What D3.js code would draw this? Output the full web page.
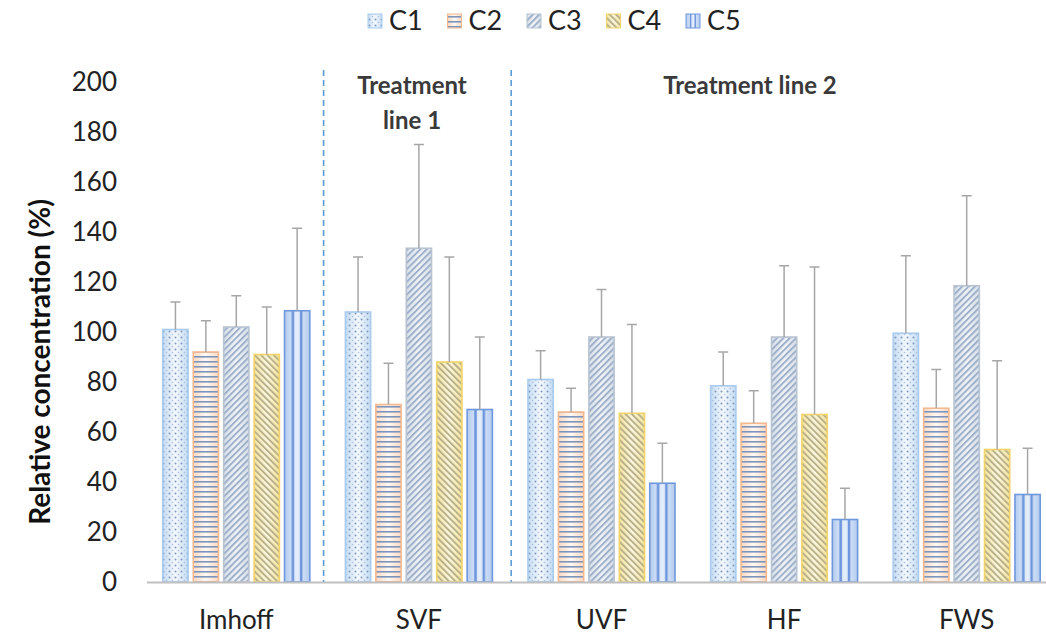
<!DOCTYPE html>
<html>
<head>
<meta charset="utf-8">
<script src="https://cdn.jsdelivr.net/npm/d3@7"></script>
<style>
  body { margin: 0; background: #fff; }
  text { font-family: Lato, "Open Sans", sans-serif; }
</style>
</head>
<body>
<svg id="chart" width="1046" height="639"></svg>
<script>
// data
const sites = ["Imhoff", "SVF", "UVF", "HF", "FWS"];
const series = ["C1", "C2", "C3", "C4", "C5"];
const c1 = [101, 108, 81, 78.5, 99.5];
const c2 = [92, 71, 68, 63.5, 69.5];
const c3 = [102, 133.5, 98, 98, 118.5];
const c4 = [91, 88, 67.5, 67, 53];
const c5 = [108.5, 69, 39.5, 25, 35];
const c1Err = [11, 22, 11.5, 13.5, 31];
const c2Err = [12.5, 16.5, 9.5, 13, 15.5];
const c3Err = [12.5, 41.5, 19, 28.5, 36];
const c4Err = [19, 42, 35.5, 59, 35.5];
const c5Err = [33, 29, 16, 12.5, 18.5];
const yTicks = [0, 20, 40, 60, 80, 100, 120, 140, 160, 180, 200];

const values = [c1, c2, c3, c4, c5];
const errors = [c1Err, c2Err, c3Err, c4Err, c5Err];

const svg = d3.select("#chart");
const margin = {left: 145, right: -12, top: 82, bottom: 57};
const W = 1046, H = 639;

const x = d3.scaleBand().domain(sites)
    .range([margin.left, W - margin.right]).paddingInner(0).paddingOuter(0);
const y = d3.scaleLinear().domain([0, 200]).range([H - margin.bottom, margin.top]);
const xs = d3.scaleBand().domain(series).range([0, x.bandwidth() * 0.805])
    .paddingInner(0.17);
const groupOff = (x.bandwidth() - x.bandwidth() * 0.805) / 2;

// styling of each series
const borders = ["#a9cbed", "#f4b990", "#b9c4d2", "#f2d56a", "#6f98dc"];
const defs = svg.append("defs");

// C1: blue-white gradient with dots
const g1 = defs.append("linearGradient").attr("id", "grad1");
g1.append("stop").attr("offset", "0%").attr("stop-color", "#c5dcf3");
g1.append("stop").attr("offset", "50%").attr("stop-color", "#f4f8fd");
g1.append("stop").attr("offset", "100%").attr("stop-color", "#c5dcf3");
const p1 = defs.append("pattern").attr("id", "pat1").attr("patternUnits", "userSpaceOnUse")
    .attr("width", 6).attr("height", 6);
p1.append("circle").attr("cx", 1.5).attr("cy", 1.5).attr("r", 1).attr("fill", "#7f98bb");
p1.append("circle").attr("cx", 4.5).attr("cy", 4.5).attr("r", 0.8).attr("fill", "#a9bfdb");

// C2: horizontal lines
const g2 = defs.append("linearGradient").attr("id", "grad2");
g2.append("stop").attr("offset", "0%").attr("stop-color", "#fbd9c2");
g2.append("stop").attr("offset", "50%").attr("stop-color", "#fff8f3");
g2.append("stop").attr("offset", "100%").attr("stop-color", "#fbd9c2");
const p2 = defs.append("pattern").attr("id", "pat2").attr("patternUnits", "userSpaceOnUse")
    .attr("width", 8).attr("height", 5);
p2.append("rect").attr("x", 0).attr("y", 1).attr("width", 8).attr("height", 1.6).attr("fill", "#7d95bd");

// C3: diagonal stripes up-right
const g3 = defs.append("linearGradient").attr("id", "grad3");
g3.append("stop").attr("offset", "0%").attr("stop-color", "#d8e0ea");
g3.append("stop").attr("offset", "50%").attr("stop-color", "#f2f6fb");
g3.append("stop").attr("offset", "100%").attr("stop-color", "#d8e0ea");
const p3 = defs.append("pattern").attr("id", "pat3").attr("patternUnits", "userSpaceOnUse")
    .attr("width", 4.5).attr("height", 4.5).attr("patternTransform", "rotate(45)");
p3.append("rect").attr("x", 0).attr("y", 0).attr("width", 2).attr("height", 4.5).attr("fill", "#9fb1c9");

// C4: diagonal stripes down-right, yellow
const g4 = defs.append("linearGradient").attr("id", "grad4");
g4.append("stop").attr("offset", "0%").attr("stop-color", "#f7e59c");
g4.append("stop").attr("offset", "50%").attr("stop-color", "#fdf8e4");
g4.append("stop").attr("offset", "100%").attr("stop-color", "#f7e59c");
const p4 = defs.append("pattern").attr("id", "pat4").attr("patternUnits", "userSpaceOnUse")
    .attr("width", 4.5).attr("height", 4.5).attr("patternTransform", "rotate(-45)");
p4.append("rect").attr("x", 0).attr("y", 0).attr("width", 2).attr("height", 4.5).attr("fill", "#b8b18a");

// C5: vertical stripes
const g5 = defs.append("linearGradient").attr("id", "grad5");
g5.append("stop").attr("offset", "0%").attr("stop-color", "#b3cbef");
g5.append("stop").attr("offset", "50%").attr("stop-color", "#e5eefb");
g5.append("stop").attr("offset", "100%").attr("stop-color", "#b3cbef");
const p5 = defs.append("pattern").attr("id", "pat5").attr("patternUnits", "objectBoundingBox")
    .attr("patternContentUnits", "objectBoundingBox").attr("width", 1).attr("height", 1);
[0.33, 0.66].forEach(function(f) {
    p5.append("rect").attr("x", f - 0.05).attr("y", 0).attr("width", 0.1).attr("height", 1)
        .attr("fill", "#6d96dc");
});

// y axis tick labels
svg.append("g").selectAll("text").data(yTicks).join("text")
    .attr("x", 117).attr("y", d => y(d)).attr("dy", "0.35em")
    .attr("text-anchor", "end").attr("font-size", 26).attr("fill", "#222")
    .text(d => d);

svg.append("text")
    .attr("transform", "translate(40,362) rotate(-90)")
    .attr("text-anchor", "middle").attr("dy", "0.35em")
    .attr("font-size", 28).attr("font-weight", "bold").attr("fill", "#111")
    .text("Relative concentration (%)");

// separators between treatment lines
const sepX = [x(sites[1]) - 4, x(sites[2]) + 1];
svg.append("g").selectAll("line").data(sepX).join("line")
    .attr("x1", d => d).attr("x2", d => d)
    .attr("y1", 70).attr("y2", y(0))
    .attr("stroke", "#5b9bd5").attr("stroke-width", 1.6).attr("stroke-dasharray", "6,4");

// bars
const groups = svg.append("g").selectAll("g").data(series).join("g");
groups.each(function(s, si) {
    const g = d3.select(this);
    const rows = sites.map((site, i) => ({site: site, v: values[si][i], e: errors[si][i]}));
    const bx = d => x(d.site) + groupOff + xs(s);
    const bw = xs.bandwidth();
    g.selectAll("rect.base").data(rows).join("rect").attr("class", "base")
        .attr("x", bx).attr("y", d => y(d.v)).attr("width", bw).attr("height", d => y(0) - y(d.v))
        .attr("fill", "url(#grad" + (si + 1) + ")");
    g.selectAll("rect.pat").data(rows).join("rect").attr("class", "pat")
        .attr("x", bx).attr("y", d => y(d.v)).attr("width", bw).attr("height", d => y(0) - y(d.v))
        .attr("fill", "url(#pat" + (si + 1) + ")")
        .attr("stroke", borders[si]).attr("stroke-width", 1.6);
    // upper error bars
    g.selectAll("line.err").data(rows).join("line").attr("class", "err")
        .attr("x1", d => bx(d) + bw / 2).attr("x2", d => bx(d) + bw / 2)
        .attr("y1", d => y(d.v)).attr("y2", d => y(d.v + d.e))
        .attr("stroke", "#a6a6a6").attr("stroke-width", 1.5);
    g.selectAll("line.cap").data(rows).join("line").attr("class", "cap")
        .attr("x1", d => bx(d) + bw / 2 - 5).attr("x2", d => bx(d) + bw / 2 + 5)
        .attr("y1", d => y(d.v + d.e)).attr("y2", d => y(d.v + d.e))
        .attr("stroke", "#a6a6a6").attr("stroke-width", 1.5);
});

// x axis line and labels
svg.append("line").attr("x1", 147).attr("x2", W).attr("y1", y(0) + 0.5).attr("y2", y(0) + 0.5)
    .attr("stroke", "#bfbfbf").attr("stroke-width", 2);
svg.append("g").selectAll("text").data(sites).join("text")
    .attr("x", d => x(d) + x.bandwidth() / 2).attr("y", 620).attr("dy", "0.35em")
    .attr("text-anchor", "middle").attr("font-size", 26).attr("fill", "#222")
    .text(d => d);

// treatment line notes
const note = svg.append("g").attr("font-size", 24).attr("font-weight", "bold")
    .attr("fill", "#3a3a3a").attr("text-anchor", "middle");
note.append("text").attr("x", 412).attr("y", 86).attr("dy", "0.35em").text("Treatment");
note.append("text").attr("x", 412).attr("y", 121).attr("dy", "0.35em").text("line 1");
note.append("text").attr("x", 750).attr("y", 86).attr("dy", "0.35em").text("Treatment line 2");

// legend
const leg = svg.append("g").selectAll("g").data(series).join("g")
    .attr("transform", (d, i) => "translate(" + (368 + i * 79.5) + ",0)");
leg.append("rect").attr("x", 0).attr("y", 14).attr("width", 14).attr("height", 14)
    .attr("fill", (d, i) => "url(#grad" + (i + 1) + ")");
leg.append("rect").attr("x", 0).attr("y", 14).attr("width", 14).attr("height", 14)
    .attr("fill", (d, i) => "url(#pat" + (i + 1) + ")")
    .attr("stroke", (d, i) => borders[i]).attr("stroke-width", 1);
leg.append("text").attr("x", 21).attr("y", 21).attr("dy", "0.35em")
    .attr("font-size", 27).attr("fill", "#222").text(d => d);
</script>
</body>
</html>
